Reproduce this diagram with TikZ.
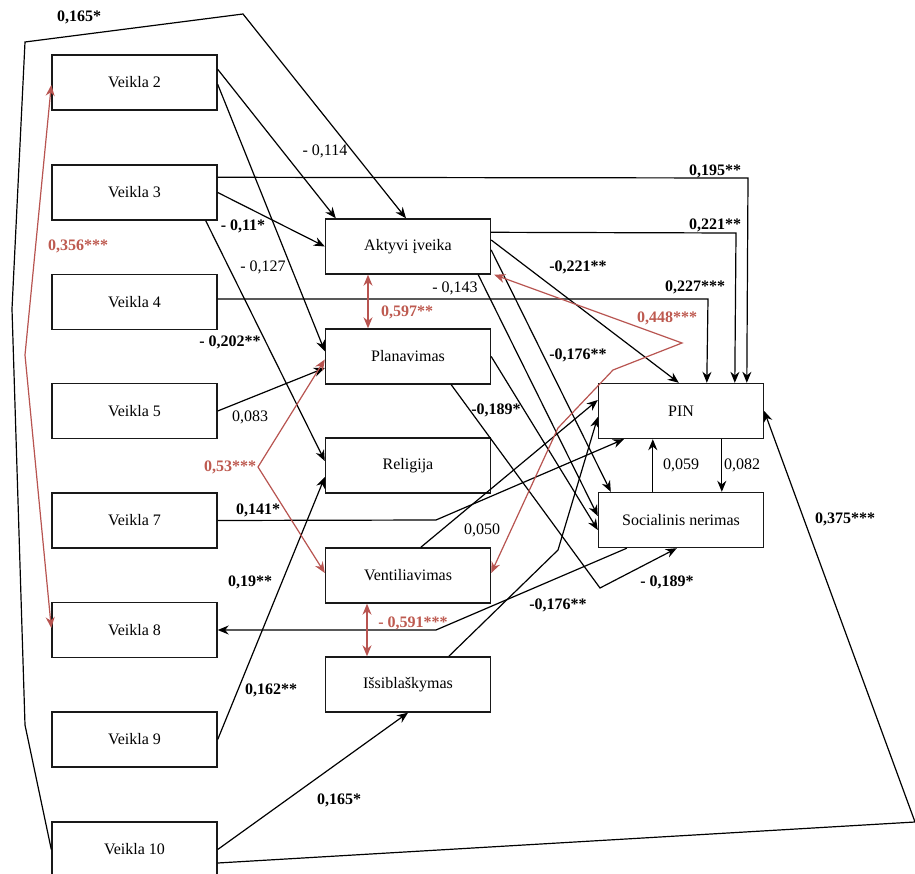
\documentclass[tikz,border=0pt]{standalone}
\usepackage{fontspec}
\setmainfont{Liberation Serif}
\usetikzlibrary{arrows.meta,calc}
\definecolor{redl}{RGB}{184,84,80}
\definecolor{redt}{RGB}{190,90,80}
\begin{document}
\begin{tikzpicture}[x=1pt,y=-1pt,
 box/.style={draw=black!90,line width=1.4pt,minimum width=165pt,minimum height=55pt,inner sep=0pt,font=\fontsize{16}{19}\selectfont},
 conn/.style={line width=1.2pt,-{Stealth[length=11pt,width=9pt]}},
 rconn/.style={draw=redl,line width=1.2pt,{Stealth[length=11pt,width=9pt]}-{Stealth[length=11pt,width=9pt]}},
 lbl/.style={inner sep=0pt,font=\fontsize{16}{19}\selectfont},
 blbl/.style={inner sep=0pt,font=\fontsize{16}{19}\selectfont\bfseries},
 rlbl/.style={blbl,text=redt}]
\fill[white] (0,0) rectangle (915,874);
\useasboundingbox (0,0) rectangle (915,874);
% left boxes
\node[box] (v2) at (134.5,82.5) {Veikla 2};
\node[box] (v3) at (134.5,192.5) {Veikla 3};
\node[box] (v4) at (134.5,302) {Veikla 4};
\node[box] (v5) at (134.5,411) {Veikla 5};
\node[box] (v7) at (134.5,520.5) {Veikla 7};
\node[box] (v8) at (134.5,630) {Veikla 8};
\node[box] (v9) at (134.5,739.5) {Veikla 9};
\node[box] (v10) at (134.5,849.5) {Veikla 10};
% middle boxes
\node[box] (akt) at (408,246.5) {Aktyvi įveika};
\node[box] (plan) at (408,356.5) {Planavimas};
\node[box] (rel) at (408,465.5) {Religija};
\node[box] (vent) at (408,575.5) {Ventiliavimas};
\node[box] (iss) at (408,684.5) {Išsiblaškymas};
% right boxes
\node[box] (pin) at (681,411) {PIN};
\node[box] (soc) at (681,520) {Socialinis nerimas};

% black connectors
\draw[conn] (v10.west) -- (25,725) -- (12,309) -- (25,42) -- (243,14) -- ($(akt.north)+(-2,0)$);
\draw[conn] ($(v10.east)+(0,13.5)$) -- (915,822) -- (pin.east);
\draw[conn] (v10.east) -- (iss.south);
\draw[conn] (v9.east) -- ($(rel.west)+(0,11.5)$);
\draw[conn] ($(soc.south west)+(29,0)$) -- (436,630) -- (v8.east);
\draw[conn] (v7.east) -- (436,520) -- ($(pin.south west)+(26,0)$);
\draw[conn] (v5.east) -- ($(plan.west)+(0,11.5)$);
\draw[conn] ($(v4.east)+(0,-3)$) -- (708,299) -- ($(pin.north west)+(109,0)$);
\draw[conn] ($(v3.north east)+(0,13)$) -- (748,178) -- ($(pin.north west)+(149,0)$);
\draw[conn] (v3.east) -- (akt.west);
\draw[conn] ($(v3.south east)+(-12,0)$) -- ($(rel.west)+(0,-4.5)$);
\draw[conn] ($(v2.north east)+(0,15)$) -- ($(akt.north west)+(11,0)$);
\draw[conn] ($(v2.north east)+(0,30)$) -- ($(plan.north west)+(0,23)$);
\draw[conn] ($(akt.east)+(0,-6.5)$) -- ($(pin.north west)+(81,0)$);
\draw[conn] ($(akt.north east)+(0,14)$) -- (736,233) -- ($(pin.north west)+(137,0)$);
\draw[conn] ($(akt.east)+(0,3.5)$) -- ($(soc.north west)+(13,0)$);
\draw[conn] ($(akt.south east)+(-13,0)$) -- ($(soc.west)+(0,-4)$);
\draw[conn] (plan.east) -- ($(soc.west)+(0,10)$);
\draw[conn] ($(plan.south east)+(-40,0)$) -- (600,588) -- ($(soc.south west)+(79,0)$);
\draw[conn] ($(vent.north west)+(96,0)$) -- ($(pin.west)+(0,-11)$);
\draw[conn] ($(iss.north west)+(124,0)$) -- (558,550) -- ($(pin.west)+(0,6)$);
\draw[conn] ($(soc.north west)+(55,0)$) -- ($(pin.south west)+(55,0)$);
\draw[conn] ($(pin.south west)+(124,0)$) -- ($(soc.north west)+(124,0)$);

% red connectors
\draw[rconn] ($(akt.south)+(-40,0)$) -- ($(plan.north)+(-40,0)$);
\draw[rconn] ($(vent.south)+(-41,0)$) -- ($(iss.north)+(-41,0)$);
\draw[rconn] ($(v2.west)+(0,2.5)$) -- (25,355) -- ($(v8.west)+(0,-2)$);
\draw[rconn] ($(plan.west)+(0,3)$) -- (258,467) -- ($(vent.west)+(0,-2.5)$);
\draw[rconn] ($(akt.south east)+(3,0)$) -- (682,343) -- (613,370) -- (558,428) -- ($(vent.east)+(0,-2.5)$);

% labels
\node[blbl] (l1) at (79,17) {0,165*};
\node[lbl] (l2) at (325,151) {- 0,114};
\node[blbl] (l3) at (715,171) {0,195**};
\node[blbl] (l4) at (243,226) {- 0,11*};
\node[rlbl] (l5) at (78,246) {0,356***};
\node[lbl] (l6) at (263,267) {- 0,127};
\node[blbl] (l7) at (715,225) {0,221**};
\node[blbl] (l8) at (578,267) {-0,221**};
\node[lbl] (l9) at (455,288) {- 0,143};
\node[blbl] (l10) at (695,287) {0,227***};
\node[rlbl] (l11) at (407,312) {0,597**};
\node[rlbl] (l12) at (667,318) {0,448***};
\node[blbl] (l13) at (230,342) {- 0,202**};
\node[blbl] (l14) at (578,355) {-0,176**};
\node[blbl] (l15) at (496,410) {-0,189*};
\node[lbl] (l16) at (250,417) {0,083};
\node[rlbl] (l17) at (230,467) {0,53***};
\node[lbl] (l18) at (681,465) {0,059};
\node[lbl] (l19) at (742,465) {0,082};
\node[blbl] (l20) at (258,510) {0,141*};
\node[blbl] (l21) at (845,519) {0,375***};
\node[lbl] (l22) at (482,530) {0,050};
\node[blbl] (l23) at (250,582) {0,19**};
\node[blbl] (l24) at (667,582) {- 0,189*};
\node[blbl] (l25) at (558,605) {-0,176**};
\node[rlbl] (l26) at (413,623) {- 0,591***};
\node[blbl] (l27) at (271,690) {0,162**};
\node[blbl] (l28) at (339,800) {0,165*};
\end{tikzpicture}
\end{document}
